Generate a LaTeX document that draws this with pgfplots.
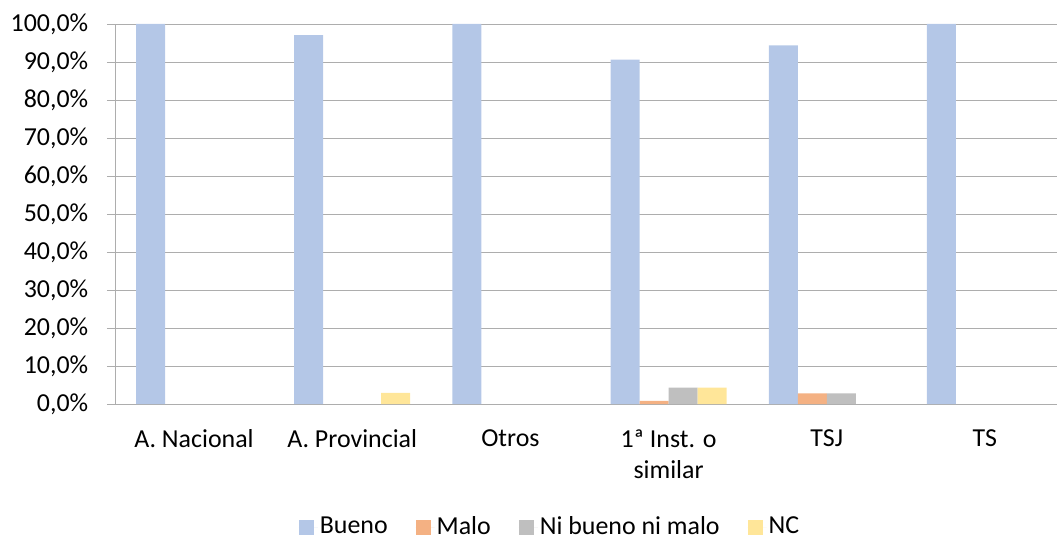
\documentclass[border=0pt]{standalone}
\usepackage{pgfplots}
\pgfplotsset{compat=1.18}
\usepackage{fontspec}
\setmainfont{Carlito}
\definecolor{bueno}{HTML}{B4C7E7}
\definecolor{malo}{HTML}{F4B183}
\definecolor{nibueno}{HTML}{BFBFBF}
\definecolor{nc}{HTML}{FFE699}
\definecolor{axisgray}{HTML}{ADADAD}
\begin{document}
\fontsize{26}{31}\selectfont
\begin{tikzpicture}
\useasboundingbox (-115bp,-135bp) rectangle (942bp,404bp);
\begin{axis}[
  at={(0,0)}, anchor=south west,
  scale only axis, width=949bp, height=380bp,
  xmin=-0.5, xmax=5.5, ymin=0, ymax=100,
  enlarge x limits=false,
  ybar=0pt, bar width=29bp,
  axis x line*=bottom, axis y line*=left,
  axis line style={axisgray, line width=0.75bp, -},
  ymajorgrids, grid style={axisgray, line width=0.75bp},
  tick align=outside, major tick length=8bp,
  tick style={axisgray, line width=0.75bp},
  ytick={0,10,...,100},
  yticklabel={\pgfmathprintnumber[fixed,fixed zerofill,precision=1,use comma]{\tick}\%},
  /pgf/number format/assume math mode=true,
  yticklabel style={font=\fontsize{26}{30}\selectfont, xshift=-10bp},
  xtick={0,...,5},
  xticklabels={A. Nacional, A. Provincial, Otros, {1ª Inst. o\\similar}, TSJ, TS},
  xticklabel style={font=\fontsize{26}{31}\selectfont, align=center, yshift=-9bp},
  major x tick style={draw=none},
  extra x ticks={0.5,1.5,2.5,3.5,4.5},
  extra x tick labels={},
  extra x tick style={grid=none, tick style={draw=axisgray, line width=0.75bp}},
  legend style={at={(axis description cs:0.4584,-0.3237)}, anchor=center, draw=none,
    font=\fontsize{26}{30}\selectfont, legend columns=4,
    /tikz/every even column/.append style={column sep=26bp}},
  legend image code/.code={\path (0bp,0bp) -- (19bp,0bp);\fill[#1] (0bp,-7.5bp) rectangle (15bp,7.5bp);},
]
\addplot[fill=bueno, draw=none] coordinates {(0,100) (1,97.1) (2,100) (3,90.6) (4,94.4) (5,100)};
\addlegendentry{Bueno}
\addplot[fill=malo, draw=none] coordinates {(3,0.8) (4,2.8)};
\addlegendentry{Malo}
\addplot[fill=nibueno, draw=none] coordinates {(3,4.3) (4,2.8)};
\addlegendentry{Ni bueno ni malo}
\addplot[fill=nc, draw=none] coordinates {(1,2.9) (3,4.3)};
\addlegendentry{NC}
\end{axis}
\end{tikzpicture}
\end{document}
